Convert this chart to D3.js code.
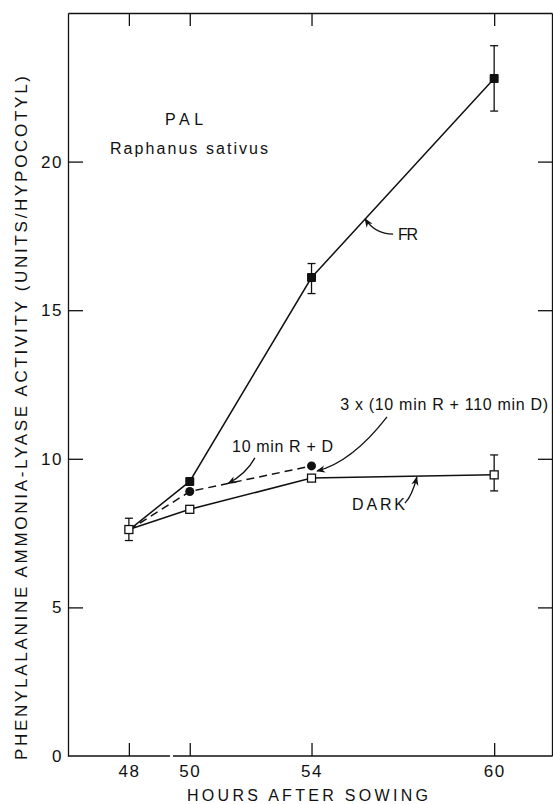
<!DOCTYPE html>
<html>
<head>
<meta charset="utf-8">
<script src="https://cdn.jsdelivr.net/npm/d3@7"></script>
<style>
  body { margin: 0; background: #fff; }
  text { font-family: "Liberation Sans", Arial, sans-serif; fill: #111; }
</style>
</head>
<body>
<div id="chart"></div>
<script>
// values
const hours = [48, 50, 54, 60];
const frValues = [7.6, 9.24, 16.1, 22.8];
const frErrLow = [null, null, 15.56, 21.7];
const frErrHigh = [null, null, 16.57, 23.9];
const rdHours = [48, 50, 54];
const rdValues = [7.6, 8.9, 9.76];
const darkValues = [7.62, 8.3, 9.35, 9.46];
const darkErrLow = [7.25, null, null, 8.92];
const darkErrHigh = [8.0, null, null, 10.13];
const yTicks = [0, 5, 10, 15, 20];

const width = 553, height = 804;
const margin = { left: 68, top: 13, right: 1, bottom: 48 };

const x = d3.scaleLinear().domain([46, 61.9]).range([margin.left, width - margin.right]);
const y = d3.scaleLinear().domain([0, 25]).range([height - margin.bottom, margin.top]);

const svg = d3.select("#chart").append("svg")
  .attr("width", width)
  .attr("height", height);

svg.append("defs").append("marker")
  .attr("id", "arrow")
  .attr("viewBox", "0 0 10 10")
  .attr("refX", 9).attr("refY", 5)
  .attr("markerWidth", 9).attr("markerHeight", 9)
  .attr("markerUnits", "userSpaceOnUse")
  .attr("orient", "auto")
  .append("path")
  .attr("d", "M0,1 L10,5 L0,9 L3,5 Z")
  .attr("fill", "#111");

// frame + ticks
const left = svg.append("g")
  .attr("transform", "translate(" + x(46) + ",0)")
  .call(d3.axisLeft(y).tickValues(yTicks).tickSize(-15).tickSizeOuter(0).tickPadding(5));
left.selectAll(".tick").filter(d => d === 0).select("line").remove();

svg.append("g")
  .attr("transform", "translate(" + x(61.9) + ",0)")
  .call(d3.axisRight(y).tickValues(yTicks.slice(1)).tickSize(-14).tickSizeOuter(0).tickFormat(""));

svg.append("g")
  .attr("transform", "translate(0," + y(25) + ")")
  .call(d3.axisTop(x).tickValues(hours).tickSize(-13).tickSizeOuter(0).tickFormat(""));

const bottom = svg.append("g")
  .attr("transform", "translate(0," + y(0) + ")")
  .call(d3.axisBottom(x).tickValues(hours).tickSize(-13).tickPadding(9));
bottom.select(".domain").remove();
// broken x axis
[[46, 49.35], [49.45, 61.9]].forEach(seg => {
  bottom.append("line")
    .attr("x1", x(seg[0])).attr("x2", x(seg[1]))
    .attr("stroke", "#111").attr("stroke-width", 1.3);
});

svg.selectAll(".domain").attr("stroke", "#111").attr("stroke-width", 1.3);
svg.selectAll(".tick line").attr("stroke", "#111").attr("stroke-width", 1.3);
svg.selectAll(".tick text")
  .attr("font-size", 17)
  .attr("letter-spacing", 1.5)
  .attr("fill", "#111")
  .attr("font-family", "Liberation Sans, Arial, sans-serif");

// axis titles
svg.append("text")
  .attr("x", 307.5).attr("y", 801)
  .attr("text-anchor", "middle")
  .attr("font-size", 16)
  .attr("textLength", 241).attr("lengthAdjust", "spacing")
  .text("HOURS AFTER SOWING");

svg.append("text")
  .attr("transform", "translate(27,418) rotate(-90)")
  .attr("text-anchor", "middle")
  .attr("font-size", 17)
  .attr("textLength", 684).attr("lengthAdjust", "spacing")
  .text("PHENYLALANINE AMMONIA-LYASE ACTIVITY (UNITS/HYPOCOTYL)");

// lines
const line = d3.line().x(d => x(d[0])).y(d => y(d[1]));
const frPts = hours.map((h, i) => [h, frValues[i]]);
const rdPts = rdHours.map((h, i) => [h, rdValues[i]]);
const darkPts = hours.map((h, i) => [h, darkValues[i]]);

svg.append("path").datum(frPts).attr("d", line)
  .attr("fill", "none").attr("stroke", "#111").attr("stroke-width", 1.5);
svg.append("path").datum(rdPts).attr("d", line)
  .attr("fill", "none").attr("stroke", "#111").attr("stroke-width", 1.5)
  .attr("stroke-dasharray", "8,5");
svg.append("path").datum(darkPts).attr("d", line)
  .attr("fill", "none").attr("stroke", "#111").attr("stroke-width", 1.5);

// error bars
function errBars(lo, hi) {
  const rows = hours.map((h, i) => ({ h: h, lo: lo[i], hi: hi[i] })).filter(d => d.lo !== null);
  const g = svg.append("g").attr("stroke", "#111").attr("stroke-width", 1.3);
  rows.forEach(d => {
    g.append("line").attr("x1", x(d.h)).attr("x2", x(d.h)).attr("y1", y(d.lo)).attr("y2", y(d.hi));
    [d.lo, d.hi].forEach(v => {
      g.append("line").attr("x1", x(d.h) - 4).attr("x2", x(d.h) + 4).attr("y1", y(v)).attr("y2", y(v));
    });
  });
}
errBars(frErrLow, frErrHigh);
errBars(darkErrLow, darkErrHigh);

// markers
svg.selectAll(".fr").data(frPts.slice(1)).enter().append("rect")
  .attr("x", d => x(d[0]) - 4.5).attr("y", d => y(d[1]) - 4.5)
  .attr("width", 9).attr("height", 9).attr("rx", 1)
  .attr("fill", "#111");
svg.selectAll(".rd").data(rdPts.slice(1)).enter().append("circle")
  .attr("cx", d => x(d[0])).attr("cy", d => y(d[1])).attr("r", 4.5)
  .attr("fill", "#111");
svg.selectAll(".dk").data(darkPts).enter().append("rect")
  .attr("x", d => x(d[0]) - 4).attr("y", d => y(d[1]) - 4)
  .attr("width", 8).attr("height", 8)
  .attr("fill", "#fff").attr("stroke", "#111").attr("stroke-width", 1.3);

// labels
const labels = [
  { text: "PAL", h: 49.19, v: 21.23, len: 38 },
  { text: "Raphanus sativus", h: 47.38, v: 20.24, len: 158 },
  { text: "FR", h: 56.84, v: 17.36, len: 20 },
  { text: "10 min R + D", h: 51.39, v: 10.23, len: 101 },
  { text: "3 x (10 min R + 110 min D)", h: 54.94, v: 11.64, len: 208 },
  { text: "DARK", h: 55.33, v: 8.28, len: 53 }
];
svg.selectAll(".lbl").data(labels).enter().append("text")
  .attr("x", d => x(d.h)).attr("y", d => y(d.v))
  .attr("font-size", 16)
  .attr("textLength", d => d.len).attr("lengthAdjust", "spacing")
  .text(d => d.text);

// curved arrows: start, control, tip (data units)
const arrows = [
  [[56.68, 17.56], [56.09, 17.56], [55.76, 18.07]],
  [[52.14, 10.03], [51.85, 9.49], [51.26, 9.17]],
  [[56.48, 11.41], [55.33, 9.89], [54.18, 9.59]],
  [[57.07, 8.51], [57.30, 8.75], [57.46, 9.38]]
];
arrows.forEach(a => {
  const p = d3.path();
  p.moveTo(x(a[0][0]), y(a[0][1]));
  p.quadraticCurveTo(x(a[1][0]), y(a[1][1]), x(a[2][0]), y(a[2][1]));
  svg.append("path").attr("d", p.toString())
    .attr("fill", "none").attr("stroke", "#111").attr("stroke-width", 1.3)
    .attr("marker-end", "url(#arrow)");
});
</script>
</body>
</html>
